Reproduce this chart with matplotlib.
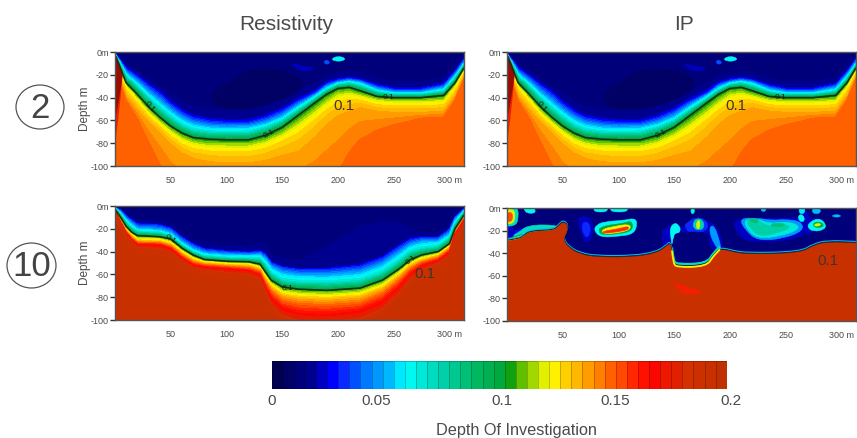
# Depth of investigation sections, resistivity and IP
import numpy as np
import matplotlib
matplotlib.use('Agg')
import matplotlib.pyplot as plt
from matplotlib.patches import Ellipse, PathPatch
from matplotlib.path import Path

plt.rcParams['font.family'] = ['Liberation Sans', 'DejaVu Sans']

W, H = 857, 438
GREY = '#4a4a4a'

# colour bar cells, read left to right
bar_colors = ['#00004f', '#000065', '#00007a', '#00008f', '#0000c0', '#0000ff', '#0a28ff',
              '#0050ff', '#0078ff', '#0098ff', '#00b8ff', '#00e8ff', '#00f8f0', '#00e8d8',
              '#00dcc0', '#00d0a8', '#00c890', '#00c078', '#00b860', '#00b050', '#00a840',
              '#10a010', '#60c000', '#a0d800', '#e0f000', '#fff000', '#ffd000', '#ffb800',
              '#ff9c00', '#ff8000', '#ff6000', '#ff4800', '#ff2800', '#ff1000', '#f80800',
              '#ee1800', '#e02000', '#d43000', '#cc3000', '#c83000', '#c03000']
bar_labels = ['0', '0.05', '0.1', '0.15', '0.2']
bar_label_pos = [0, 0.046, 0.101, 0.151, 0.202]
x_ticks = [50, 100, 150, 200, 250, 300]
x_labels = ['50', '100', '150', '200', '250', '300 m']
y_ticks = [0, -20, -40, -60, -80, -100]
y_labels = ['0m', '-20', '-40', '-60', '-80', '-100']

# electrode spacing 2: depth (m) of each value along the profile
top_x = [0, 5, 10, 20, 30, 40, 50, 60, 70, 85, 100, 120, 135, 150, 165, 180, 190, 200, 210, 220,
         235, 250, 275, 295, 305, 313]
top_values = [0.011, 0.015, 0.019, 0.03, 0.05, 0.07, 0.1, 0.11, 0.122, 0.13, 0.138, 0.148, 0.149]
top_d012 = [0] * 26
top_d015 = [1.1, 6.5, 12, 19, 26, 33, 41, 48, 53, 56, 57, 57, 52, 46, 37, 31, 24, 20, 19, 20, 26, 29, 29, 25, 14, 5]
top_d02 = [1.3, 7, 13, 20, 27, 34, 43, 50, 55, 58, 59, 59, 55, 49, 40, 33, 26, 23, 22, 23.5, 28, 31, 31, 27, 16, 6]
top_d03 = [1.5, 8, 15, 22, 30, 37, 46, 53, 58, 61, 62, 62, 58, 52, 43, 36, 28, 25, 23.5, 25, 30, 33, 33, 29, 18, 7]
top_d05 = [2, 10, 19, 27, 36, 44, 52, 59, 63.5, 66, 66.5, 66, 63, 57, 47, 38, 31, 27, 25.5, 27, 33, 35.5, 35.5, 32, 21, 10]
top_d07 = [2.5, 12, 22, 31, 41, 50, 58, 65, 69, 71, 71.5, 71, 67, 61, 51, 41, 34, 29, 27.5, 30, 35.5, 37.5, 37.5, 35, 24, 12]
top_d10 = [3, 15, 27, 37, 48, 57, 65, 71, 75, 76.5, 77, 77, 73, 66, 55, 44, 37, 32, 31, 34, 39, 40, 40, 38, 27, 14]
top_d11 = [3.5, 17, 29, 40, 51, 60, 68, 74, 78, 80, 80, 80, 77, 70, 60, 49, 41, 35, 34, 37, 41, 42, 42, 41, 29, 16]
top_d12 = [4, 19, 31, 42, 54, 63, 71, 78, 82, 84, 84.5, 84.5, 81, 75, 66, 55, 47, 40, 38, 40, 44, 45, 45, 44, 32, 18]
top_d125 = [4.5, 22, 35, 47, 58, 67, 76, 83, 87, 89, 90, 90, 87, 81, 74, 62, 53, 47, 44, 44, 48, 49, 49, 48, 36, 20]
top_d13 = [5, 26, 40, 52, 63, 72, 82, 90, 95, 98, 99, 99, 97, 93, 90, 77, 66, 58, 54, 50, 53, 54, 54, 53, 40, 22]
top_d14 = [7, 30, 44, 60, 82, 104, 125, 130, 130, 130, 130, 130, 130, 130, 130, 130, 125, 115, 95, 82, 72, 66, 59, 58, 43, 25]
top_d_end = [145] * 26

# electrode spacing 10, resistivity
low_x = [0, 5, 10, 15, 20, 40, 50, 60, 70, 80, 100, 120, 130, 135, 140, 150, 165, 190, 220, 240,
         255, 265, 275, 290, 300, 305, 313]
low_values = [0.011, 0.015, 0.019, 0.03, 0.05, 0.07, 0.1, 0.11, 0.12, 0.135, 0.15, 0.165, 0.19, 0.195]
low_d012 = [0] * 27
low_d015 = [1, 3, 7, 11, 14, 15, 18, 26, 32, 36, 38, 39, 36, 38, 46, 51, 53, 40, 20, 15, 17, 23, 26, 26, 19, 8.5, 2.2]
low_d02 = [1.1, 3.5, 8, 12, 15, 16, 19, 27, 33, 37, 39, 40, 39, 42, 49, 53, 55, 54.5, 51, 44, 34, 28, 27, 27, 20, 9, 2.5]
low_d03 = [1.2, 4, 9, 13, 16, 17, 20, 28, 34, 38, 40, 41, 40, 43, 50, 54, 56, 56, 53, 46, 36, 30, 28, 28, 21, 10, 3]
low_d05 = [1.6, 6, 12, 16, 20, 21, 24, 32, 38, 41.5, 43, 43.5, 43, 47, 54, 59, 61, 61.5, 59, 52, 42, 35, 32, 31, 25, 13, 4]
low_d07 = [2.2, 8, 15, 20, 23, 24, 27, 35, 41, 44.5, 46, 46.5, 47, 53, 60, 66, 67.5, 68, 66, 59, 49, 41, 38, 36, 29, 17, 6]
low_d10 = [3, 10, 18, 23, 26, 27, 29, 37, 43, 47, 48.5, 49, 51, 58, 65, 71, 73, 74, 72, 65, 55, 47, 43, 40, 33, 20, 8]
low_d11 = [3.4, 11, 19, 24, 27.5, 28, 30.5, 38.5, 44.5, 48, 49.5, 50, 52.5, 60, 67, 73, 75, 76, 74, 67, 57, 49, 44.5, 41, 34, 21, 9]
low_d12 = [3.8, 12, 20.5, 25.5, 29, 29.5, 32, 40, 46, 49, 50.5, 51, 54, 62, 69, 75.5, 77.5, 78.5, 76.5, 69.5, 59, 50.5, 46, 42.5, 35.5, 22, 10]
low_d135 = [4.2, 13, 22, 27, 31, 31.5, 34, 42, 48, 50.5, 52, 53, 56, 65, 72, 79, 81.5, 82.5, 80.5, 73, 62, 53, 48, 44, 37, 23, 11]
low_d15 = [4.6, 14, 23, 28.5, 32.5, 33, 36, 44, 50, 52, 53.5, 55, 58, 68, 76, 84, 87, 88, 86, 78, 66, 56, 50, 46, 39, 24, 12]
low_d165 = [5, 15, 24, 30, 34, 34.5, 38, 46, 52, 54, 55.5, 57, 61, 72, 81, 90, 94, 95, 92, 84, 71, 60, 53, 48, 41, 26, 13]
low_d19 = [6, 17, 27, 33, 38, 39, 42, 50, 56, 58, 60, 62, 66, 78, 90, 100, 105, 106, 103, 94, 80, 67, 58, 52, 45, 30, 16]
low_d_end = [145] * 27

# small patches on the spacing 2 sections: value, x, depth
top_core = (0.008, [85, 100, 112, 120, 150, 170, 165, 150, 125, 100, 88], [38, 27, 20, 15, 15, 25, 35, 42, 50, 50, 45])
top_spot1 = (0.06, [194, 200, 207, 204, 197], [6, 3.5, 5.5, 8, 8])
top_spot2 = (0.035, [187, 191, 193, 189], [8, 7, 10, 11])
top_spot3 = (0.022, [157, 165, 175, 179, 172, 162], [9, 12, 13, 15, 17, 15])
top_wedge_x = [0, 1.5, 7, 5, 3, 0]
top_wedge_d = [3, 4, 18, 40, 58, 82]
top_wedge2_x = [0, 1.5, 7, 5.5, 3.5, 1, 0]
top_wedge2_d = [3, 4, 18, 30, 42, 55, 60]

# IP section, spacing 10: red body outline and anomalies
ip_body_x = [0, 8, 14, 20, 42, 46, 50.5, 55, 53, 50.5, 55, 65.7, 80.6, 113, 134, 143, 146, 148,
             149, 152, 179, 185, 191, 203, 215, 263, 275, 287, 313]
ip_body_d = [29, 28, 26, 20.5, 20, 16, 12, 16, 23, 27.6, 35, 41, 43.5, 43.5, 40, 34, 31, 37,
             47.6, 52, 51, 42, 36, 39, 41, 40, 33, 30, 31]
ip_anoms = [
    (0.026, [0, 4, 6, 20, 22, 14, 8, 0], [16, 17, 21, 16, 22, 26, 29, 29]),
    (0.07, [5, 10, 19, 44, 46, 42, 20, 14, 8], [24, 22, 15, 15, 18, 21, 21, 26, 28]),
    (0.02, [0, 5, 8, 5, 0], [17, 17, 21, 25, 25]),
    (0.1, [0, 8, 14, 16, 8, 0], [27, 25, 23, 25, 28, 29]),
    (0.125, [0, 8, 14, 18, 8, 0], [28, 26, 24, 24, 29, 29]),
    (0.07, [-2, 10, 10, 6, -2], [-2, -2, 12, 16, 16]),
    (0.12, [-1, 7, 7, 3, -1], [1, 1, 12, 14, 14]),
    (0.155, [0, 5, 5, 2, 0], [4, 4, 11, 12, 12]),
    (0.06, [15, 24, 26, 20, 16], [-1, -1, 4, 5, 3]),
    (0.024, [66, 76, 78, 74, 70, 66, 63], [7, 9, 20, 30, 31, 20, 12]),
    (0.03, [68, 74, 75, 71, 67], [12, 13, 22, 27, 19]),
    (0.06, [80, 88, 105, 114, 117, 114, 100, 84, 78], [15, 12, 11, 9, 13, 23, 25, 26, 20]),
    (0.1, [84, 92, 105, 112, 113, 100, 85, 82], [17, 15, 13.5, 11, 20, 23, 24, 20]),
    (0.125, [85, 95, 110, 111, 100, 86], [19, 16.5, 14, 19, 22, 23]),
    (0.16, [86, 100, 109, 109, 100, 86], [20.5, 18.5, 16, 19, 21, 22.5]),
    (0.024, [138, 150, 158, 165, 172, 180, 186, 192, 194, 186, 178, 150, 146, 142, 140], [20, 14, 17, 18, 10, 12, 14, 25, 36, 40, 24, 24, 34, 38, 30]),
    (0.06, [146, 150, 154, 156, 152, 149, 148, 147], [18, 13, 15, 20, 24, 25, 34, 26]),
    (0.045, [182, 186, 190, 192, 190, 186, 182], [16, 16, 27, 36, 37, 32, 23]),
    (0.03, [161, 170, 178, 181, 175, 165, 159], [13, 8, 10, 17, 22, 23, 17]),
    (0.075, [167, 171, 176, 177, 173, 167], [12, 9, 11, 17, 20, 18]),
    (0.12, [170, 172, 173, 173, 171, 170], [13, 10.5, 12, 17, 19, 17]),
    (0.024, [203, 225, 250, 268, 270, 255, 235, 212, 205], [10, 9, 9, 8, 22, 28, 30, 29, 20]),
    (0.045, [208, 225, 238, 250, 264, 266, 248, 225, 214], [9, 9, 11, 10, 12, 20, 27, 29, 20]),
    (0.065, [212, 225, 235, 247, 260, 262, 245, 225, 216], [10, 9.5, 14, 12, 14, 19, 25, 27, 20]),
    (0.075, [214, 224, 235, 247, 256, 240, 226, 218], [10, 10, 17, 14, 17, 23, 25, 18]),
    (0.085, [216, 224, 226, 220], [9.5, 9, 13, 13]),
    (0.085, [236, 247, 250, 238], [14, 13, 16, 17]),
    (0.024, [262, 268, 272, 282, 285, 272, 268], [1, 1, 10, 8, 19, 21, 26]),
    (0.06, [272, 280, 286, 285, 275, 269], [12, 9, 14, 19, 21, 17]),
    (0.1, [274, 280, 284, 283, 276], [13.5, 12, 14.5, 17, 17.5]),
    (0.12, [275, 280, 282, 277], [14.5, 13.5, 15, 16.5]),
    (0.055, [262, 267, 267, 262], [-1, -1, 5, 5]),
    (0.06, [261, 266, 267, 262], [6, 6, 12, 12]),
    (0.06, [78, 90, 90, 78], [-1, -1, 3.5, 3.5]),
    (0.06, [93, 108, 108, 93], [-1, -1, 3.5, 3.5]),
    (0.06, [165, 168, 168, 165], [0, 0, 5, 5]),
    (0.05, [228, 232, 232, 228], [0, 0, 3, 3]),
    (0.05, [274, 281, 281, 274], [0, 0, 5, 5]),
    (0.05, [292, 299, 299, 292], [6, 6, 8, 8]),
]
ip_pocket_x = [150, 150, 181, 181, 181, 181, 150, 150]
ip_pocket_d = [28, 21, 21, 28, 43, 50, 50, 43]
ip_glow_x = [148, 152, 166, 178, 158]
ip_glow_d = [66, 66, 71, 75, 78]
ip_pocket_rim_x = [148, 149, 152, 179, 185, 191]
ip_pocket_rim_d = [37, 47.6, 52, 51, 42, 36]


levels = np.linspace(0, 0.2, len(bar_colors) + 1)


def value_color(v):
    i = min(np.searchsorted(levels, v, side='right') - 1, len(bar_colors) - 1)
    return bar_colors[i]


def px_axes(left, top, right, bottom):
    return fig.add_axes([left / W, 1 - bottom / H, (right - left) / W, (bottom - top) / H])


def style_section(ax, y_title=True):
    ax.set_xlim(0, 313)
    ax.set_ylim(-100, 0)
    ax.set_xticks(x_ticks)
    ax.set_xticklabels(x_labels)
    ax.set_yticks(y_ticks)
    ax.set_yticklabels(y_labels)
    ax.tick_params(axis='x', length=0, labelsize=6.5, labelcolor=GREY, pad=7)
    ax.tick_params(axis='y', length=3.5, width=1, color='#333333', labelsize=6.5, labelcolor=GREY, pad=1)
    for s in ax.spines.values():
        s.set_color('#555555')
        s.set_linewidth(1)
        s.set_zorder(10)
    if y_title:
        ax.set_ylabel('Depth m', fontsize=8.5, color=GREY, labelpad=0)


def draw_field(ax, xs, values, depths):
    X = np.tile(np.array(xs, dtype=float), (len(values), 1))
    Y = -np.array(depths, dtype=float)
    Z = np.tile(np.array(values)[:, None], (1, len(xs)))
    cs = ax.contourf(X, Y, Z, levels=levels, colors=bar_colors)
    cs.set_edgecolor('face')
    cs.set_linewidth(0.3)
    ax.contour(X, Y, Z, levels=[0.1], colors='#1c2e1c', linewidths=1.2)


def round_path(xs, ys):
    # quadratic curves through edge midpoints, so hand read outlines do not look angular
    pts = np.column_stack([xs, ys]).astype(float)
    mids = (pts + np.roll(pts, -1, axis=0)) / 2
    verts = [mids[-1]]
    codes = [Path.MOVETO]
    for p, m in zip(pts, mids):
        verts += [p, m]
        codes += [Path.CURVE3, Path.CURVE3]
    return Path(verts, codes)


def open_path(xs, ys):
    pts = np.column_stack([xs, ys]).astype(float)
    verts = [pts[0]]
    codes = [Path.MOVETO]
    for i in range(1, len(pts) - 1):
        verts += [pts[i], (pts[i] + pts[i + 1]) / 2]
        codes += [Path.CURVE3, Path.CURVE3]
    verts.append(pts[-1])
    codes.append(Path.LINETO)
    return Path(verts, codes)


def draw_patch(ax, patch):
    v, xs, ds = patch
    c = value_color(v)
    ax.add_patch(PathPatch(round_path(xs, -np.array(ds)), fc=c, ec=c, lw=0.4))


def draw_line(ax, xs, ys, color, lw):
    ax.add_patch(PathPatch(open_path(xs, ys), fc='none', ec=color, lw=lw, capstyle='butt'))


def small_label(ax, x, d, angle):
    ax.text(x, d, '0.1', fontsize=6, color='#1a1a1a', rotation=angle, ha='center', va='center')


def big_label(ax, x, d):
    ax.text(x, d, '0.1', fontsize=11, color='#40362a', ha='center', va='center', zorder=8)


fig = plt.figure(figsize=(W / 100, H / 100), dpi=100)

top_depths = [top_d012, top_d015, top_d02, top_d03, top_d05, top_d07, top_d10, top_d11, top_d12,
              top_d125, top_d13, top_d14, top_d_end]
low_depths = [low_d012, low_d015, low_d02, low_d03, low_d05, low_d07, low_d10, low_d11, low_d12,
              low_d135, low_d15, low_d165, low_d19, low_d_end]

# spacing 2 sections
for left, right, y_title in [(115, 464, True), (507, 856, False)]:
    ax = px_axes(left, 52, right, 166)
    draw_field(ax, top_x, top_values, top_depths)
    for p in [top_core, top_spot1, top_spot2, top_spot3]:
        draw_patch(ax, p)
    ax.fill(top_wedge_x, -np.array(top_wedge_d), color='#ee2000', lw=0)
    ax.fill(top_wedge2_x, -np.array(top_wedge2_d), color='#9a0c00', lw=0)
    small_label(ax, 31, -48, -52)
    small_label(ax, 138, -72, 28)
    small_label(ax, 245, -39.5, 0)
    big_label(ax, 205, -47)
    style_section(ax, y_title)

# spacing 10, resistivity
ax = px_axes(115, 206, 464, 320)
draw_field(ax, low_x, low_values, low_depths)
small_label(ax, 50, -29, -35)
small_label(ax, 155, -72, 0)
small_label(ax, 266, -47, 40)
big_label(ax, 278, -60)
style_section(ax)

# spacing 10, IP
ax = px_axes(507, 208, 856, 321)
ax.set_facecolor(bar_colors[2])
for p in ip_anoms:
    draw_patch(ax, p)
ax.add_patch(PathPatch(round_path(ip_pocket_x, -np.array(ip_pocket_d)), fc=bar_colors[2], ec='none'))
body_x = np.array(ip_body_x)
body_y = -np.array(ip_body_d, dtype=float)
rim_x = np.array(ip_pocket_rim_x)
rim_y = -np.array(ip_pocket_rim_d, dtype=float)
draw_line(ax, body_x, body_y + 1.3, value_color(0.05), 1.0)
draw_line(ax, rim_x, rim_y + 2.0, value_color(0.07), 1.6)
draw_line(ax, body_x, body_y + 0.5, '#1c2e1c', 0.8)
body_path = open_path(body_x, body_y)
ax.add_patch(PathPatch(Path(list(body_path.vertices) + [(313, -100), (0, -100), (0, -29)],
                            list(body_path.codes) + [Path.LINETO, Path.LINETO, Path.LINETO]),
                       fc=bar_colors[39], ec='none'))
draw_line(ax, rim_x, rim_y - 0.6, value_color(0.125), 1.3)
ax.add_patch(PathPatch(round_path(ip_glow_x, -np.array(ip_glow_d)), fc='#f02000', ec='none'))
big_label(ax, 288, -47)
style_section(ax, False)

# colour bar
cax = px_axes(271.7, 360.7, 726.7, 389.3)
cell_values = (levels[:-1] + levels[1:]) / 2
cax.pcolormesh(levels, [0, 1], cell_values[None, :], cmap=matplotlib.colors.ListedColormap(bar_colors),
               norm=matplotlib.colors.BoundaryNorm(levels, len(bar_colors)),
               edgecolors=(0, 0, 0, 0.22), linewidth=0.6)
cax.set_xlim(0, 0.2)
cax.set_yticks([])
cax.set_xticks([])
for s in cax.spines.values():
    s.set_visible(False)
for pos, lab in zip(bar_label_pos, bar_labels):
    cax.text(pos, -0.4, lab, fontsize=11, color=GREY, ha='center', va='center', clip_on=False)

# page level text, in pixel coordinates
page = fig.add_axes([0, 0, 1, 1], zorder=-1)
page.set_xlim(0, W)
page.set_ylim(H, 0)
page.axis('off')
page.text(286, 25, 'Resistivity', fontsize=15, color=GREY, ha='center', va='center')
page.text(684, 25, 'IP', fontsize=15, color=GREY, ha='center', va='center')
page.text(516.7, 430, 'Depth Of Investigation', fontsize=11.7, color=GREY, ha='center', va='center')
page.add_patch(Ellipse((40, 107), 48, 44, fc='none', ec='#555555', lw=0.9))
page.add_patch(Ellipse((31.5, 265.5), 49, 45, fc='none', ec='#555555', lw=0.9))
page.text(40, 108, '2', fontsize=25, color='#444444', ha='center', va='center')
page.text(31.5, 266, '10', fontsize=25, color='#444444', ha='center', va='center')

fig.savefig('out.png', dpi=100)
